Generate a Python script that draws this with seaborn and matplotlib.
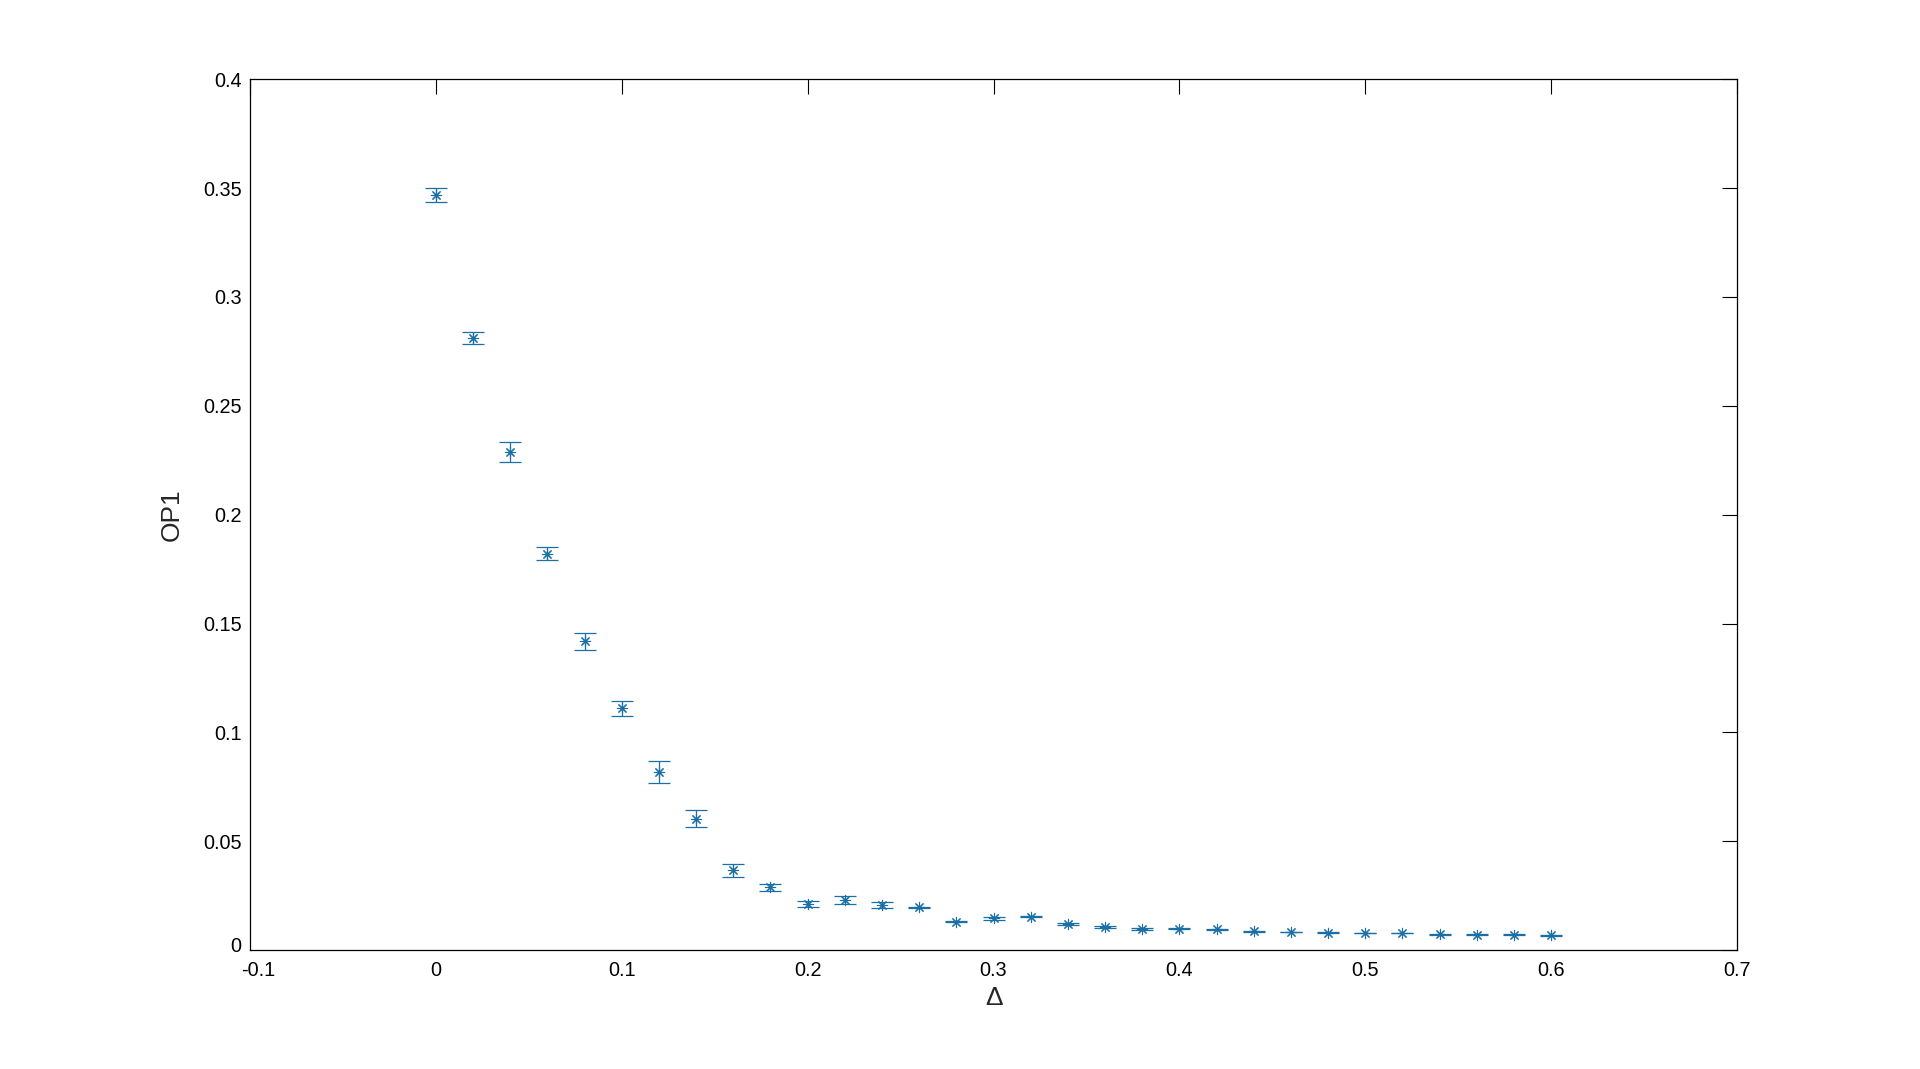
import numpy as np
import pandas as pd
import matplotlib
matplotlib.use("Agg")
import matplotlib.pyplot as plt
import matplotlib.transforms as mtransforms
import seaborn as sns

# Data
delta = [0.00, 0.02, 0.04, 0.06, 0.08, 0.10, 0.12, 0.14, 0.16, 0.18,
         0.20, 0.22, 0.24, 0.26, 0.28, 0.30, 0.32, 0.34, 0.36, 0.38,
         0.40, 0.42, 0.44, 0.46, 0.48, 0.50, 0.52, 0.54, 0.56, 0.58, 0.60]
op1 = [0.3469, 0.2810, 0.2287, 0.1821, 0.1418, 0.1110, 0.0816, 0.0602, 0.0366, 0.0288,
       0.0211, 0.0230, 0.0207, 0.0196, 0.0130, 0.0146, 0.0152, 0.0121, 0.0107, 0.0098,
       0.0098, 0.0095, 0.0087, 0.0083, 0.0080, 0.0078, 0.0078, 0.0073, 0.0070, 0.0070, 0.0067]
op1_err = [0.0032, 0.0028, 0.0045, 0.0029, 0.0040, 0.0034, 0.0051, 0.0039, 0.0030, 0.0017,
           0.0012, 0.0018, 0.0013, 0.0002, 0.0003, 0.0006, 0.0002, 0.0004, 0.0004, 0.0004,
           0.0002, 0.0003, 0.0002, 0.0002, 0.0003, 0.0002, 0.0002, 0.0002, 0.0002, 0.0002, 0.0003]

x_ticks = [-0.1, 0, 0.1, 0.2, 0.3, 0.4, 0.5, 0.6, 0.7]
x_tick_labels = ["-0.1", "0", "0.1", "0.2", "0.3", "0.4", "0.5", "0.6", "0.7"]
y_ticks = [0, 0.05, 0.1, 0.15, 0.2, 0.25, 0.3, 0.35, 0.4]
y_tick_labels = ["0", "0.05", "0.1", "0.15", "0.2", "0.25", "0.3", "0.35", "0.4"]

df = pd.DataFrame({"delta": delta, "op1": op1, "err": op1_err})

sns.set_style("white")
plt.rcParams["font.family"] = ["Liberation Sans", "DejaVu Sans"]

color = "#1a6fa6"
fig = plt.figure(figsize=(19.2, 10.69), dpi=100)
ax = fig.add_axes([0.1302, 0.1113, 0.7745, 0.8145])

ax.errorbar(df["delta"], df["op1"], yerr=df["err"], fmt="none",
            ecolor=color, elinewidth=0.9, capsize=7.8, capthick=0.9)
sns.scatterplot(data=df, x="delta", y="op1", ax=ax, marker=(8, 2, 0),
                s=55, color=color, linewidth=0.8, edgecolor=color, zorder=3)

ax.set_xlim(-0.1, 0.7)
ax.set_ylim(0, 0.4)
ax.set_xticks(x_ticks)
ax.set_xticklabels(x_tick_labels)
ax.set_yticks(y_ticks)
ax.set_yticklabels(y_tick_labels)
ax.tick_params(direction="in", top=True, right=True, length=10.5, width=0.8,
               labelsize=14.3, colors="black", pad=6)
ax.tick_params(axis="x", pad=8)
for sp in ax.spines.values():
    sp.set_visible(True)
    sp.set_color("black")
    sp.set_linewidth(0.9)

# MATLAB-style nudges of the corner labels
xl0 = ax.get_xticklabels()[0]
xl0.set_transform(xl0.get_transform() + mtransforms.ScaledTranslation(8 / 100, 0, fig.dpi_scale_trans))
yl0 = ax.get_yticklabels()[0]
yl0.set_transform(yl0.get_transform() + mtransforms.ScaledTranslation(0, 6 / 100, fig.dpi_scale_trans))

ax.set_xlabel("Δ", fontsize=19, labelpad=4)
ax.set_ylabel("OP1", fontsize=19, labelpad=14)

fig.savefig("out.png", dpi=100, facecolor="white")
